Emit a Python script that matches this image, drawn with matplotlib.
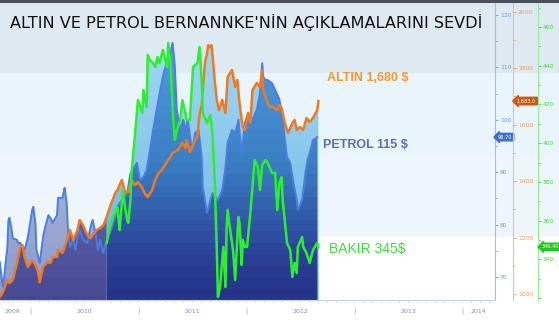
import numpy as np
import matplotlib
matplotlib.use("Agg")
import matplotlib.pyplot as plt
from matplotlib.colors import LinearSegmentedColormap
from matplotlib.patches import Rectangle
from matplotlib.path import Path
import matplotlib.transforms as mtransforms

TITLE = "ALTIN VE PETROL BERNANNKE'NİN AÇIKLAMALARINI SEVDİ"

# ---------------- data (decimal year, value) ----------------
gold_dates = [2009.72, 2009.75, 2009.79, 2009.81, 2009.84, 2009.88, 2009.91, 2009.93, 2009.95, 2009.98,
              2010.02, 2010.05, 2010.07, 2010.09, 2010.12, 2010.16, 2010.19, 2010.21, 2010.25, 2010.26,
              2010.30, 2010.32, 2010.35, 2010.37, 2010.40, 2010.44, 2010.46, 2010.49, 2010.53, 2010.56,
              2010.58, 2010.62, 2010.65, 2010.68, 2010.71, 2010.74, 2010.79, 2010.81, 2010.85, 2010.88,
              2010.91, 2010.94, 2010.97, 2011.00, 2011.04, 2011.06, 2011.09, 2011.13, 2011.16, 2011.19,
              2011.22, 2011.25, 2011.30, 2011.32, 2011.37, 2011.41, 2011.44, 2011.45, 2011.48, 2011.51,
              2011.55, 2011.57, 2011.59, 2011.60, 2011.62, 2011.64, 2011.65, 2011.67, 2011.68, 2011.69,
              2011.71, 2011.73, 2011.75, 2011.78, 2011.81, 2011.83, 2011.87, 2011.90, 2011.92, 2011.94,
              2011.97, 2011.99, 2012.02, 2012.04, 2012.06, 2012.10, 2012.13, 2012.15, 2012.16, 2012.19,
              2012.22, 2012.25, 2012.29, 2012.31, 2012.33, 2012.36, 2012.39, 2012.43, 2012.45, 2012.47,
              2012.50, 2012.53, 2012.56, 2012.59, 2012.62, 2012.66, 2012.67]
gold_values = [990, 1007, 1050, 1039, 1050, 1110, 1166, 1173, 1131, 1096,
               1120, 1103, 1085, 1042, 1096, 1113, 1110, 1131, 1131, 1156,
               1145, 1166, 1202, 1227, 1191, 1227, 1262, 1244, 1209, 1198,
               1209, 1227, 1234, 1244, 1273, 1308, 1358, 1368, 1404, 1361,
               1361, 1404, 1386, 1396, 1375, 1358, 1343, 1368, 1404, 1428,
               1439, 1457, 1485, 1499, 1510, 1535, 1517, 1545, 1503, 1527,
               1559, 1634, 1669, 1722, 1818, 1853, 1881, 1874, 1881, 1846,
               1758, 1687, 1651, 1687, 1641, 1768, 1793, 1733, 1758, 1676,
               1591, 1581, 1641, 1605, 1722, 1747, 1733, 1793, 1722, 1687,
               1662, 1662, 1651, 1669, 1658, 1605, 1570, 1605, 1616, 1581,
               1591, 1581, 1623, 1609, 1623, 1651, 1683]

oil_dates = [2009.72, 2009.74, 2009.75, 2009.79, 2009.80, 2009.81, 2009.83, 2009.84, 2009.88, 2009.89,
             2009.91, 2009.94, 2009.95, 2009.98, 2010.02, 2010.03, 2010.05, 2010.06, 2010.09, 2010.12,
             2010.14, 2010.17, 2010.20, 2010.21, 2010.25, 2010.26, 2010.30, 2010.31, 2010.32, 2010.34,
             2010.35, 2010.37, 2010.40, 2010.42, 2010.44, 2010.46, 2010.49, 2010.53, 2010.56, 2010.58,
             2010.60, 2010.62, 2010.63, 2010.65, 2010.67, 2010.68, 2010.71, 2010.74, 2010.79, 2010.81,
             2010.85, 2010.90, 2010.93, 2010.95, 2010.99, 2011.02, 2011.05, 2011.08, 2011.11, 2011.14,
             2011.18, 2011.21, 2011.24, 2011.27, 2011.30, 2011.32, 2011.34, 2011.36, 2011.39, 2011.42,
             2011.44, 2011.46, 2011.50, 2011.53, 2011.56, 2011.59, 2011.60, 2011.64, 2011.67, 2011.69,
             2011.74, 2011.78, 2011.81, 2011.83, 2011.87, 2011.90, 2011.93, 2011.96, 2011.99, 2012.02,
             2012.04, 2012.06, 2012.10, 2012.13, 2012.15, 2012.16, 2012.18, 2012.20, 2012.24, 2012.27,
             2012.30, 2012.31, 2012.34, 2012.36, 2012.38, 2012.41, 2012.44, 2012.47, 2012.48, 2012.52,
             2012.55, 2012.57, 2012.59, 2012.62, 2012.66]
oil_values = [72.9, 69.4, 68.1, 75.7, 80.9, 81.3, 79.0, 77.4, 77.1, 76.5,
              76.5, 75.5, 75.2, 77.6, 82.8, 83.4, 80.3, 75.2, 72.7, 77.6,
              79.5, 81.8, 80.9, 80.3, 81.8, 85.1, 85.1, 86.0, 87.0, 84.1,
              79.5, 75.7, 77.1, 75.2, 77.6, 79.0, 77.1, 76.5, 79.5, 80.9,
              79.0, 76.5, 75.2, 77.1, 75.2, 74.6, 77.1, 78.4, 81.5, 83.4,
              84.7, 86.0, 89.8, 90.4, 91.8, 88.5, 89.1, 90.4, 94.2, 98.1,
              102.8, 106.1, 109.1, 111.0, 112.7, 114.7, 110.5, 101.9, 98.1, 100.0,
              98.1, 100.0, 94.2, 97.5, 98.1, 92.9, 87.2, 82.2, 84.7, 86.0,
              84.7, 86.6, 91.0, 95.6, 98.1, 97.5, 100.0, 93.7, 99.4, 101.3,
              99.4, 100.0, 101.9, 105.1, 110.8, 108.2, 107.6, 107.6, 107.0, 105.7,
              104.4, 103.8, 100.5, 96.1, 92.9, 91.8, 87.9, 84.7, 82.8, 84.7,
              89.8, 92.3, 93.7, 96.1, 96.7]

copper_dates = [2010.71, 2010.74, 2010.77, 2010.81, 2010.82, 2010.83, 2010.85, 2010.86, 2010.88, 2010.90,
                2010.91, 2010.93, 2010.94, 2010.97, 2011.00, 2011.04, 2011.05, 2011.08, 2011.09, 2011.11,
                2011.14, 2011.16, 2011.18, 2011.20, 2011.23, 2011.27, 2011.28, 2011.30, 2011.31, 2011.32,
                2011.34, 2011.36, 2011.39, 2011.41, 2011.44, 2011.45, 2011.48, 2011.51, 2011.55, 2011.57,
                2011.59, 2011.60, 2011.64, 2011.67, 2011.69, 2011.71, 2011.73, 2011.74, 2011.76, 2011.79,
                2011.81, 2011.82, 2011.83, 2011.85, 2011.88, 2011.90, 2011.93, 2011.94, 2011.96, 2011.97,
                2011.99, 2012.01, 2012.04, 2012.06, 2012.08, 2012.11, 2012.13, 2012.15, 2012.18, 2012.20,
                2012.24, 2012.27, 2012.29, 2012.31, 2012.33, 2012.34, 2012.38, 2012.41, 2012.43, 2012.45,
                2012.47, 2012.48, 2012.52, 2012.53, 2012.56, 2012.59, 2012.62, 2012.66, 2012.67]
copper_values = [348.4, 356.7, 361.9, 367.0, 360.3, 355.1, 369.1, 375.8, 367.0, 360.3,
                 358.8, 370.6, 385.1, 403.2, 422.3, 415.6, 427.5, 418.7, 445.6, 443.0,
                 441.4, 439.4, 444.5, 441.4, 448.2, 439.4, 451.8, 441.4, 431.1, 418.7,
                 401.7, 406.8, 412.0, 422.3, 415.6, 412.0, 412.0, 439.4, 441.4, 449.7,
                 432.7, 415.6, 410.4, 414.6, 404.2, 381.0, 344.8, 320.5, 325.7, 346.4,
                 325.7, 355.1, 365.5, 356.7, 344.8, 329.3, 361.9, 358.8, 337.1, 350.0,
                 346.4, 346.4, 363.9, 377.4, 391.3, 387.7, 375.8, 388.7, 391.3, 389.8,
                 384.6, 384.6, 365.5, 379.4, 382.5, 370.6, 348.4, 344.8, 330.9, 338.1,
                 332.9, 346.4, 351.5, 346.4, 343.3, 338.1, 344.8, 348.4, 346.4]

year_ticks = [2010, 2011, 2012, 2013, 2014]
year_label_pos = [2009.84, 2010.5, 2011.5, 2012.5, 2013.5, 2014.15]
year_labels = ["2009", "2010", "2011", "2012", "2013", "2014"]
oil_ticks = [70, 80, 90, 100, 110, 120]
gold_ticks = [1000, 1200, 1400, 1600, 1800, 2000]
copper_ticks = [320, 340, 360, 380, 400, 420, 440, 460]
copper_tick_labels = ["", "340", "360", "380", "400", "420", "440", "460"]

label_gold = "ALTIN 1,680 $"
label_oil = "PETROL 115 $"
label_copper = "BAKIR 345$"

# ---------------- figure ----------------
W, H = 559, 335
fig = plt.figure(figsize=(W / 100, H / 100), dpi=100)
fig.patch.set_facecolor("white")

def band(y0, y1, color):
    fig.patches.append(Rectangle((0, 1 - y1 / H), 1, (y1 - y0) / H, transform=fig.transFigure,
                                 facecolor=color, edgecolor="none", zorder=-10))

band(0, 2.5, "#4b5058")
band(2.5, 73, "#dfe9f2")
band(73, 155, "#eaf4fb")
band(155, 237, "#eef6fc")

ax = fig.add_axes([0, 35 / H, 495 / W, 297 / H])
ax_g = ax.twinx()
ax_c = ax.twinx()
for a in (ax, ax_g, ax_c):
    a.patch.set_visible(False)
    for s in ("left", "top"):
        a.spines[s].set_visible(False)
ax_g.spines["bottom"].set_visible(False)
ax_c.spines["bottom"].set_visible(False)

cs = copper_dates[0]
gd = np.array(gold_dates); od = np.array(oil_dates)

# polygons for fills (used as clip paths)
def poly(axis, x, y, where):
    coll = axis.fill_between(x, y, -1e6, where=where, facecolor="none", edgecolor="none", linewidth=0)
    coll.set_visible(False)
    return Path.make_compound_path(*coll.get_paths()), axis.transData

grad = np.linspace(0, 1, 26).reshape(-1, 1)

def gradient_fill(clip, cmap, z):
    im = ax.imshow(grad, extent=[0, 1, 0, 1], transform=ax.transAxes, cmap=cmap, origin="lower",
                   aspect="auto", interpolation="nearest", zorder=z)
    im.set_clip_path(clip[0], clip[1])

cm_light = LinearSegmentedColormap.from_list("light", [(0, "#5fa8dc"), (0.4, "#84c4ea"), (0.75, "#98d2f0"), (1, "#a8dcf4")])
cm_oil = LinearSegmentedColormap.from_list("oil", [(0, "#25338a"), (0.15, "#2b4499"), (0.45, "#3a7dc2"), (0.8, "#4c98da"), (1, "#58a6e6")])
cm_oil_left = LinearSegmentedColormap.from_list("oill", [(0, "#8e9ccc"), (0.5, "#a6b4d8"), (1, "#b8c6e2")])
cm_gold_left = LinearSegmentedColormap.from_list("goldl", [(0, "#484a96"), (0.3, "#5a60a8"), (1, "#6a74b8")])

# right part (copper period)
gradient_fill(poly(ax_c, copper_dates, copper_values, None), cm_light, 1)
gradient_fill(poly(ax_g, gold_dates, gold_values, gd >= cs), cm_light, 1.1)
gradient_fill(poly(ax, oil_dates, oil_values, od >= cs), cm_oil, 1.2)
# left part
gradient_fill(poly(ax, oil_dates, oil_values, od <= cs), cm_oil_left, 1.3)
gradient_fill(poly(ax_g, gold_dates, gold_values, gd <= cs), cm_gold_left, 1.4)

# lines
ax.plot(oil_dates, oil_values, color="#4a7ee0", lw=1.4, zorder=3)
ax_g.plot(gold_dates, gold_values, color="#ee7a22", lw=1.8, zorder=3)
ax_c.plot(copper_dates, copper_values, color="#2cf02c", lw=1.8, zorder=3)

# limits
ax.set_xlim(2009.722, 2014.306)
ax.set_ylim(65.61, 122.29)
ax_g.set_ylim(978.8, 2030.1)
ax_c.set_ylim(318.97, 472.45)

# x axis
ax.spines["bottom"].set_color("#c5d2e6")
ax.set_xticks(year_ticks)
ax.set_xticklabels(["|"] * len(year_ticks))
ax.set_xticks(year_label_pos, minor=True)
ax.set_xticklabels(year_labels, minor=True)
ax.tick_params(axis="x", which="major", length=0, pad=5.5, labelsize=5, labelcolor="#a8b4c8")
ax.tick_params(axis="x", which="minor", length=0, pad=6.5, labelsize=4.5, labelcolor="#7890b8")
sec = ax.secondary_xaxis("bottom")
sec.set_xticks(np.arange(2009.75, 2014.3, 1 / 12))
sec.set_xticklabels([])
sec.tick_params(length=1.5, width=0.6, color="#c0cce0")
sec.spines["bottom"].set_visible(False)

# right axes
ax.yaxis.tick_right()
ax.spines["right"].set_color("#a8bde0")
ax.set_yticks(oil_ticks)
ax.set_yticks([75, 85, 95, 105, 115], minor=True)
ax.tick_params(axis="y", which="both", colors="#6f94e0", labelsize=4.3, length=2.5, width=0.6, pad=1)
ax.tick_params(axis="y", which="minor", length=1.5)

ax_g.spines["right"].set_position(("axes", 513 / 495))
ax_g.spines["right"].set_color("#e8c0a0")
ax_g.set_yticks(gold_ticks)
ax_g.set_yticks([1100, 1300, 1500, 1700, 1900], minor=True)
ax_g.tick_params(axis="y", which="both", colors="#e89a60", labelsize=4.3, length=2.5, width=0.6, pad=1)
ax_g.tick_params(axis="y", which="minor", length=1.5)

ax_c.spines["right"].set_position(("axes", 538 / 495))
ax_c.spines["right"].set_color("#9ce89c")
ax_c.set_yticks(copper_ticks)
ax_c.set_yticklabels(copper_tick_labels)
ax_c.set_yticks([330, 350, 370, 390, 410, 430, 450, 470], minor=True)
ax_c.tick_params(axis="y", which="both", colors="#3cd83c", labelsize=4.3, length=2.5, width=0.6, pad=1)
ax_c.tick_params(axis="y", which="minor", length=1.5)

# value tags
def tag(axis, value, text, color, dx):
    tr = mtransforms.blended_transform_factory(axis.transAxes, axis.transData)
    axis.text(dx, value, text, transform=tr, ha="left", va="center", fontsize=3.6, color="white",
              bbox=dict(boxstyle="larrow,pad=0.25", fc=color, ec=color), zorder=6, clip_on=False)

tag(ax, oil_values[-1], f"{oil_values[-1]:.2f}", "#3c6fd0", 1.006)
tag(ax_g, gold_values[-1], f"{gold_values[-1]:,.1f}", "#c85a12", 1.044)
tag(ax_c, copper_values[-1], f"{copper_values[-1]:.2f}", "#22c822", 1.095)

# labels
ax_c.text(327 / 495, (300 - 78) / 297, label_gold, transform=ax_c.transAxes, color="#f39a2e",
          fontsize=9, fontweight="bold", family="Liberation Sans", va="center", ha="left", zorder=7)
ax_c.text(323 / 495, (300 - 145) / 297, label_oil, transform=ax_c.transAxes, color="#5a6cc2",
          fontsize=9, fontweight="bold", family="Liberation Sans", va="center", ha="left", zorder=7)
ax_c.text(329 / 495, (300 - 249) / 297, label_copper, transform=ax_c.transAxes, color="#3ddc3d",
          fontsize=10, family="Liberation Sans", va="center", ha="left", zorder=7)

fig.text(10 / W, 1 - 22 / H, TITLE, fontsize=11.6, color="#111111", family="DejaVu Sans",
         va="center", ha="left")

fig.savefig("out.png", dpi=100)
